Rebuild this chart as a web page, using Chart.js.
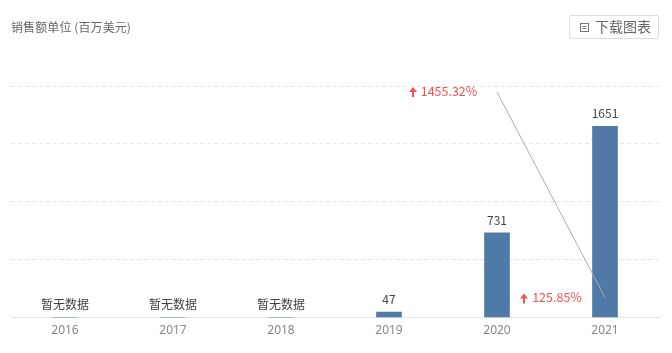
<!DOCTYPE html>
<html>
<head>
<meta charset="utf-8">
<script src="https://cdn.jsdelivr.net/npm/chart.js@4"></script>
<style>
html,body{margin:0;padding:0;background:#fff;width:672px;height:353px;overflow:hidden;font-family:"Noto Sans CJK SC","Noto Sans",sans-serif}
#wrap{position:absolute;left:0;top:0;width:672px;height:353px}
#title{position:absolute;left:11px;top:18px;font-size:12px;line-height:18px;color:#666;letter-spacing:.1px}
#btn{position:absolute;left:569px;top:15px;width:88px;height:22px;border:1px solid #ddd;border-radius:2px;font-size:14px;line-height:21px;color:#666;text-indent:25px}
#btn svg{position:absolute;left:9px;top:6px}
</style>
</head>
<body>
<div id="wrap">
<canvas id="sales-chart" width="672" height="353"></canvas>
<div id="title">销售额单位 (百万美元)</div>
<div id="btn"><svg width="11" height="11" viewBox="0 0 11 11"><rect x="1.5" y="1.5" width="8" height="8" fill="none" stroke="#777"/><path d="M3.5 4.5h4M3.5 6.5h4" stroke="#777"/></svg>下载图表</div>
</div>
<script>
const years = ['2016', '2017', '2018', '2019', '2020', '2021'];
const sales = [0, 0, 0, 47, 731, 1651];
const barLabels = ['暂无数据', '暂无数据', '暂无数据', '47', '731', '1651'];
const growthLine = [null, null, null, null, 1948, 173];
const growthYears = ['2020', '2021'];
const growthValues = [1957, 173];
const growthTexts = ['1455.32%', '125.85%'];

const sales2 = document.querySelector('#sales-chart').getContext('2d');

// bar labels + red growth labels
const labelPlugin = {
    id: 'labels',
    afterDatasetsDraw(chart) {
        const ctx = chart.ctx;
        const x = chart.scales.x;
        const y = chart.scales.y;
        ctx.save();
        ctx.font = '12px "Noto Sans CJK SC", "Noto Sans", sans-serif';
        ctx.textAlign = 'center';
        ctx.textBaseline = 'bottom';
        ctx.fillStyle = '#444';
        sales.forEach(function (v, i) {
            ctx.fillText(barLabels[i], x.getPixelForValue(i), y.getPixelForValue(v) - 7);
        });
        ctx.textBaseline = 'middle';
        ctx.font = '12.5px "Noto Sans CJK SC", "Noto Sans", sans-serif';
        growthTexts.forEach(function (text, i) {
            const cx = x.getPixelForValue(years.indexOf(growthYears[i])) - 48;
            const py = y.getPixelForValue(growthValues[i]);
            ctx.fillStyle = '#f5534f';
            ctx.fillText(text, cx, py);
            // little up arrow left of the text
            const ax = Math.round(cx - ctx.measureText(text).width / 2 - 8);
            ctx.beginPath();
            ctx.moveTo(ax, py - 4);
            ctx.lineTo(ax + 4, py + 1);
            ctx.lineTo(ax + 1, py + 1);
            ctx.lineTo(ax + 1, py + 6);
            ctx.lineTo(ax - 1, py + 6);
            ctx.lineTo(ax - 1, py + 1);
            ctx.lineTo(ax - 4, py + 1);
            ctx.closePath();
            ctx.fill();
        });
        ctx.restore();
    }
};

const salesGraph = new Chart(sales2, {
    data: {
        labels: years,
        datasets: [
            {
                type: 'line',
                data: growthLine,
                borderColor: '#a9abb8',
                borderWidth: 1,
                pointRadius: 0,
                spanGaps: true,
                order: 0
            },
            {
                type: 'bar',
                data: sales,
                backgroundColor: '#4f79a7',
                barThickness: 25,
                order: 1
            }
        ]
    },
    options: {
        responsive: false,
        animation: false,
        layout: {padding: {left: 11, right: 13, top: 86, bottom: 17}},
        plugins: {legend: {display: false}, tooltip: {enabled: false}},
        scales: {
            x: {
                grid: {display: false},
                border: {color: '#e3e3e3'},
                ticks: {color: '#888', padding: -2, font: {size: 12, family: '"Noto Sans", sans-serif'}}
            },
            y: {
                min: 0,
                max: 2000,
                afterFit(s) { s.width = 0; },
                ticks: {display: false, stepSize: 500},
                border: {display: false, dash: [4, 3]},
                grid: {color: '#e4e7ea', lineWidth: 1, drawTicks: false}
            }
        }
    },
    plugins: [labelPlugin]
});
</script>
</body>
</html>
